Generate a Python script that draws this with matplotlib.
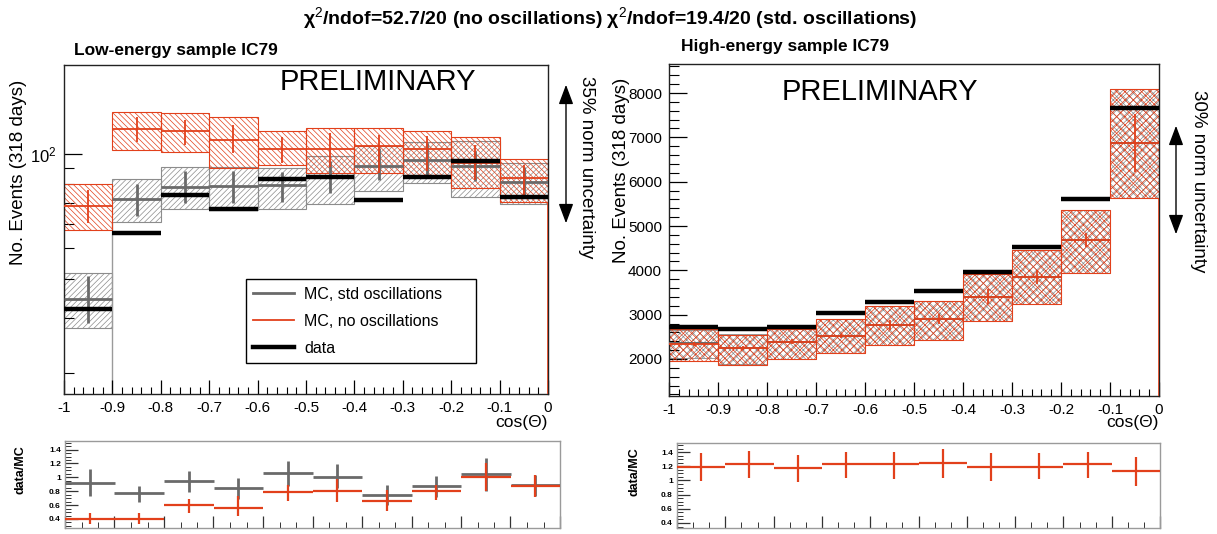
import matplotlib

matplotlib.use("Agg")
import matplotlib.pyplot as plt
import numpy as np
from matplotlib.lines import Line2D
from matplotlib.ticker import (AutoMinorLocator, FixedLocator, FuncFormatter,
                               MultipleLocator, NullFormatter)

plt.rcParams["font.family"] = ["Liberation Sans", "DejaVu Sans"]
plt.rcParams["mathtext.fontset"] = "custom"
plt.rcParams["mathtext.rm"] = "Liberation Sans"
plt.rcParams["mathtext.it"] = "Liberation Sans"
plt.rcParams["mathtext.bf"] = "Liberation Sans:bold"
plt.rcParams["axes.unicode_minus"] = False
plt.rcParams["hatch.linewidth"] = 0.5

# binning in cos(theta)
edges = np.linspace(-1.0, 0.0, 11)
centers = 0.5 * (edges[:-1] + edges[1:])

# ---- low-energy sample (log scale) ----
lo_data = [32.1, 55.9, 74.0, 66.8, 83.1, 84.3, 71.4, 84.3, 95.0, 73.1]
lo_noosc = [68.4, 120.0, 118.4, 110.8, 103.5, 103.5, 106.0, 103.5, 93.4, 83.7]
lo_noosc_err_lo = [60.4, 109.4, 106.8, 100.6, 93.4, 91.0, 87.2, 88.0, 82.7, 74.0]
lo_noosc_err_hi = [76.8, 131.5, 128.3, 123.7, 113.0, 117.0, 115.0, 114.0, 106.8, 92.2]
lo_noosc_band_lo = [57.3, 103.0, 101.2, 90.0, 92.2, 86.8, 86.8, 86.0, 77.8, 70.5]
lo_noosc_band_hi = [80.0, 136.0, 134.8, 131.5, 118.4, 121.3, 121.3, 118.4, 113.5, 96.2]
lo_std = [34.5, 71.7, 78.3, 79.1, 79.4, 84.3, 91.6, 95.7, 91.6, 81.6]
lo_std_err_lo = [28.9, 63.4, 70.0, 69.8, 70.5, 75.0, 82.7, 85.7, 82.0, 73.0]
lo_std_err_hi = [41.0, 80.3, 88.3, 88.0, 87.9, 95.0, 104.3, 108.2, 102.0, 91.0]
lo_std_band_lo = [27.9, 60.6, 66.8, 66.5, 66.7, 69.3, 76.4, 80.7, 72.8, 69.3]
lo_std_band_hi = [41.7, 83.3, 90.7, 90.7, 90.3, 98.5, 106.0, 109.4, 110.0, 93.4]

# ratio data/MC, low energy
lo_r_std = [0.924, 0.771, 0.948, 0.843, 1.067, 1.01, 0.748, 0.88, 1.043, 0.886]
lo_r_std_lo = [0.733, 0.648, 0.79, 0.686, 0.88, 0.843, 0.605, 0.714, 0.805, 0.733]
lo_r_std_hi = [1.114, 0.88, 1.095, 0.995, 1.233, 1.19, 0.886, 1.02, 1.28, 1.033]
lo_r_noosc = [0.405, 0.405, 0.60, 0.557, 0.795, 0.805, 0.652, 0.805, 1.0, 0.876]
lo_r_noosc_lo = [0.33, 0.33, 0.486, 0.438, 0.66, 0.64, 0.52, 0.676, 0.805, 0.72]
lo_r_noosc_hi = [0.486, 0.48, 0.69, 0.733, 0.89, 0.97, 0.82, 0.89, 1.21, 1.03]

# ---- high-energy sample (linear scale) ----
hi_data = [2729, 2670, 2729, 3031, 3294, 3535, 3971, 4535, 5605, 7659]
hi_noosc = [2339, 2241, 2391, 2519, 2767, 2896, 3406, 3858, 4686, 6869]
hi_noosc_err = [45, 45, 50, 50, 110, 110, 165, 160, 150, 660]
hi_noosc_band_lo = [1962, 1865, 1993, 2128, 2316, 2429, 2865, 3242, 3935, 5628]
hi_noosc_band_hi = [2677, 2542, 2677, 2896, 3196, 3316, 3919, 4460, 5363, 8088]
hi_std = [2354, 2255, 2391, 2519, 2767, 2896, 3406, 3858, 4686, 6869]
hi_std_band_lo = [2015, 1880, 2000, 2128, 2316, 2429, 2865, 3242, 3935, 5628]
hi_std_band_hi = [2654, 2560, 2677, 2896, 3196, 3316, 3919, 4460, 5363, 8088]

# ratio data/MC(no osc), high energy
hi_r = [1.195, 1.229, 1.171, 1.229, 1.229, 1.252, 1.186, 1.195, 1.229, 1.133]
hi_r_lo = [0.995, 1.04, 0.98, 1.04, 1.02, 1.04, 0.995, 1.014, 1.04, 0.924]
hi_r_hi = [1.386, 1.42, 1.36, 1.40, 1.40, 1.44, 1.386, 1.386, 1.40, 1.33]

RED = "#e2401b"
GRAY = "#6a6a6a"
GRAY_HATCH = "#8c8c8c"

W, H = 1217, 534
fig = plt.figure(figsize=(W / 100, H / 100), dpi=100)


def box(x0, y0, x1, y1):
    # pixel box (top-left origin) -> figure fraction rect
    return [x0 / W, 1 - y1 / H, (x1 - x0) / W, (y1 - y0) / H]


def draw_band(ax, lo, hi, color, hatch, z, lw=0.8):
    lo = np.asarray(lo, float)
    hi = np.asarray(hi, float)
    ax.bar(centers, hi - lo, bottom=lo, width=0.1, fill=False, hatch=hatch,
           edgecolor=color, linewidth=lw, zorder=z)


def draw_mc(ax, val, err_lo, err_hi, color, lw, z):
    val = np.asarray(val, float)
    yerr = [val - np.asarray(err_lo, float), np.asarray(err_hi, float) - val]
    ax.errorbar(centers, val, xerr=0.05, yerr=yerr, fmt="none", ecolor=color,
                elinewidth=lw, capsize=0, zorder=z)


def draw_data(ax, vals, lw=3.2):
    ax.hlines(vals, edges[:-1], edges[1:], colors="black", linewidth=lw,
              capstyle="butt", zorder=10)


def style_main(ax):
    ax.set_xlim(-1, 0)
    ax.xaxis.set_major_locator(MultipleLocator(0.1))
    ax.xaxis.set_minor_locator(AutoMinorLocator(5))
    ax.xaxis.set_major_formatter(FuncFormatter(lambda v, p: "%g" % round(v, 2)))
    ax.tick_params(which="both", direction="in", top=False, right=False,
                   labelsize=11, pad=5)
    ax.tick_params(which="major", length=10, width=0.9)
    ax.tick_params(which="minor", length=5, width=0.8)
    for s in ax.spines.values():
        s.set_linewidth(1.0)
        s.set_color("#222222")


def style_ratio(ax, ylim):
    ax.set_xlim(-1, 0)
    ax.set_ylim(*ylim)
    ax.xaxis.set_major_locator(MultipleLocator(0.1))
    ax.xaxis.set_minor_locator(AutoMinorLocator(3))
    ax.xaxis.set_major_formatter(NullFormatter())
    ax.yaxis.set_major_locator(FixedLocator([0.4, 0.6, 0.8, 1.0, 1.2, 1.4]))
    ax.yaxis.set_minor_locator(MultipleLocator(0.05))
    ax.yaxis.set_major_formatter(FuncFormatter(lambda v, p: "%g" % round(v, 2)))
    ax.tick_params(which="both", direction="in", top=False, right=False,
                   labelsize=6, pad=3, color="#333333")
    ax.tick_params(which="major", length=9, width=0.9)
    ax.tick_params(which="minor", length=4, width=0.7)
    for lab in ax.get_yticklabels():
        lab.set_fontweight("bold")
    for s in ax.spines.values():
        s.set_linewidth(1.0)
        s.set_color("#9a9a9a")


# ---------------- low-energy main ----------------
ax1 = fig.add_axes(box(64, 65, 548, 394))
ax1.set_yscale("log")
ylo1 = (17.2, 192.0)
ax1.set_ylim(*ylo1)
draw_band(ax1, lo_std_band_lo, lo_std_band_hi, GRAY_HATCH, "//////", 1)
draw_band(ax1, lo_noosc_band_lo, lo_noosc_band_hi, RED, "\\\\\\\\\\\\", 2)
draw_mc(ax1, lo_std, lo_std_err_lo, lo_std_err_hi, GRAY, 2.0, 3)
draw_mc(ax1, lo_noosc, lo_noosc_err_lo, lo_noosc_err_hi, RED, 1.3, 4)
draw_data(ax1, lo_data)
ax1.vlines(0, ylo1[0], lo_noosc_band_lo[-1], colors=RED, linewidth=1.2, zorder=6)
ax1.vlines(-0.9, ylo1[0], lo_std_band_lo[1], colors="#9a9a9a", linewidth=1.0, zorder=1)
style_main(ax1)
ax1.yaxis.set_major_locator(FixedLocator([100]))
ax1.yaxis.set_major_formatter(FuncFormatter(lambda v, p: "10$^{2}$"))
ax1.yaxis.set_minor_locator(FixedLocator([20, 30, 40, 50, 60, 70, 80, 90]))
ax1.yaxis.set_minor_formatter(NullFormatter())
ax1.tick_params(axis="y", which="minor", length=7)
ax1.tick_params(axis="y", which="major", length=13, labelsize=12)

handles = [
    Line2D([], [], color=GRAY, linewidth=2.0),
    Line2D([], [], color=RED, linewidth=1.3),
    Line2D([], [], color="black", linewidth=3.2),
]
leg = ax1.legend(handles, ["MC, std oscillations", "MC, no oscillations", "data"],
                 loc="lower left", bbox_to_anchor=(0.3754, 0.0951, 0.4758, 0.26),
                 mode="expand", fontsize=11.5, frameon=True, fancybox=False,
                 edgecolor="black", framealpha=1, borderpad=0.45,
                 labelspacing=0.75, handlelength=2.6, handletextpad=0.6,
                 borderaxespad=0)
leg.get_frame().set_linewidth(1.0)

# ---------------- high-energy main ----------------
ax2 = fig.add_axes(box(669, 64, 1159, 396))
ylo2 = (1165, 8655)
ax2.set_ylim(*ylo2)
draw_band(ax2, hi_std_band_lo, hi_std_band_hi, "#8a8a8a", "xxxxx", 1, lw=0.6)
draw_band(ax2, hi_noosc_band_lo, hi_noosc_band_hi, RED, "xxxx", 2)
ax2.hlines(hi_std, edges[:-1], edges[1:], colors=GRAY, linewidth=1.4, zorder=3)
draw_mc(ax2, hi_noosc, np.subtract(hi_noosc, hi_noosc_err),
        np.add(hi_noosc, hi_noosc_err), RED, 1.3, 4)
draw_data(ax2, hi_data)
ax2.vlines(0, ylo2[0], hi_noosc_band_lo[-1], colors=RED, linewidth=1.2, zorder=6)
style_main(ax2)
ax2.yaxis.set_major_locator(MultipleLocator(1000))
ax2.yaxis.set_minor_locator(MultipleLocator(200))
ax2.tick_params(axis="y", which="major", length=13)
ax2.tick_params(axis="y", which="minor", length=7)

# ---------------- ratio panels ----------------
ax3 = fig.add_axes(box(65, 441, 560, 528))
style_ratio(ax3, (0.27, 1.524))
draw_mc(ax3, lo_r_std, lo_r_std_lo, lo_r_std_hi, GRAY, 2.0, 3)
draw_mc(ax3, lo_r_noosc, lo_r_noosc_lo, lo_r_noosc_hi, RED, 1.6, 4)

ax4 = fig.add_axes(box(677, 443, 1160, 528))
style_ratio(ax4, (0.329, 1.528))
draw_mc(ax4, hi_r, hi_r_lo, hi_r_hi, RED, 1.6, 4)

# ---------------- texts ----------------
def ftext(x, y, s, **kw):
    fig.text(x / W, 1 - y / H, s, **kw)


ftext(610, 18, "\u03c7$^{2}$/ndof=52.7/20 (no oscillations) \u03c7$^{2}$/ndof=19.4/20 (std. oscillations)",
      ha="center", va="center", fontsize=14, fontweight="bold")
ftext(74, 50, "Low-energy sample IC79", ha="left", va="center", fontsize=12.5, fontweight="bold")
ftext(681, 47, "High-energy sample IC79", ha="left", va="center", fontsize=12.5, fontweight="bold")
ftext(280, 82, "PRELIMINARY", ha="left", va="center", fontsize=21)
ftext(782, 92, "PRELIMINARY", ha="left", va="center", fontsize=21)
ftext(19, 172, "No. Events (318 days)", rotation=90, ha="center", va="center", fontsize=13.5)
ftext(621, 170, "No. Events (318 days)", rotation=90, ha="center", va="center", fontsize=13.5)
ftext(586, 167, "35% norm uncertainty", rotation=-90, ha="center", va="center", fontsize=13.5)
ftext(1199, 181, "30% norm uncertainty", rotation=-90, ha="center", va="center", fontsize=13.5)
ftext(548, 422, "cos(\u0398)", ha="right", va="center", fontsize=12.5)
ftext(1159, 422, "cos(\u0398)", ha="right", va="center", fontsize=12.5)
ftext(20, 470, "data/MC", rotation=90, ha="center", va="center", fontsize=9, fontweight="bold")
ftext(634, 472, "data/MC", rotation=90, ha="center", va="center", fontsize=9, fontweight="bold")

# norm uncertainty double arrows
for xa, ya0, ya1 in [(566, 82, 226), (1176, 123, 237)]:
    fig.add_artist(matplotlib.patches.FancyArrowPatch(
        (xa / W, 1 - ya1 / H), (xa / W, 1 - ya0 / H), transform=fig.transFigure,
        arrowstyle="<|-|>,head_length=1.2,head_width=0.45", mutation_scale=10,
        color="black", linewidth=1.0))

fig.savefig("out.png", dpi=100)
plt.close(fig)
